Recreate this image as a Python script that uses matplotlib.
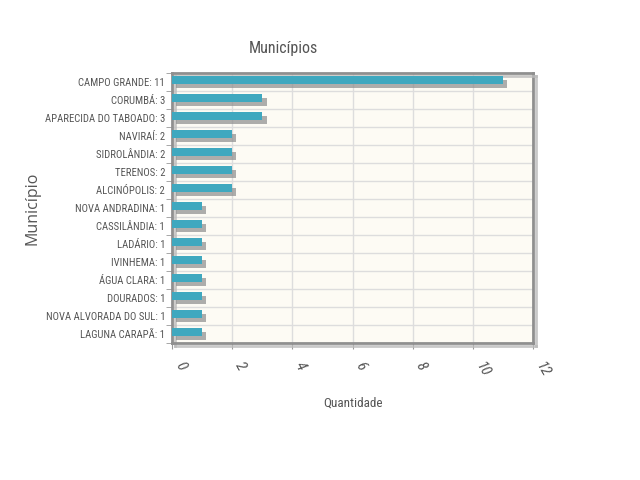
import matplotlib
matplotlib.use("Agg")
import matplotlib.pyplot as plt
import matplotlib.patheffects as pe
import numpy as np

# municipios e quantidades, de cima para baixo
municipios = ["CAMPO GRANDE", "CORUMBÁ", "APARECIDA DO TABOADO", "NAVIRAÍ",
              "SIDROLÂNDIA", "TERENOS", "ALCINÓPOLIS", "NOVA ANDRADINA",
              "CASSILÂNDIA", "LADÁRIO", "IVINHEMA", "ÁGUA CLARA", "DOURADOS",
              "NOVA ALVORADA DO SUL", "LAGUNA CARAPÃ"]
quantidade = [11, 3, 3, 2, 2, 2, 2, 1, 1, 1, 1, 1, 1, 1, 1]
x_ticks = [0, 2, 4, 6, 8, 10, 12]

plt.rcParams['font.family'] = ['Roboto Condensed', 'DejaVu Sans Condensed',
                               'Liberation Sans Narrow', 'Roboto', 'DejaVu Sans']
txt = '#555555'

fig = plt.figure(figsize=(6.4, 4.8), dpi=100)
ax = fig.add_axes([0.269, 0.285, 0.564, 0.563])
ax.set_facecolor('#fdfbf4')

n = len(municipios)
ypos = np.arange(n)
labels = [f"{m}: {q}" for m, q in zip(municipios, quantidade)]

bars = ax.barh(ypos - 0.12, quantidade, height=0.45, color='#3fa8bf', zorder=3)
for b in bars:
    b.set_path_effects([pe.SimplePatchShadow(offset=(3, -3), shadow_rgbFace='#8c8c8c', alpha=0.7),
                        pe.Normal()])

ax.set_xlim(0, 12)
ax.set_ylim(n - 0.5, -0.5)
ax.set_xticks(x_ticks)
ax.set_xticklabels([str(t) for t in x_ticks], rotation=-60, ha='left', va='top',
                   fontsize=11, color=txt, style='italic')
ax.set_yticks(ypos)
ax.set_yticklabels(labels, fontsize=7.7, color=txt)
ax.set_yticks(np.arange(n + 1) - 0.5, minor=True)
ax.tick_params(axis='y', which='major', length=0, pad=5)
ax.tick_params(axis='y', which='minor', length=4, color='#999999')
ax.tick_params(axis='x', length=4, color='#999999', pad=8)

ax.grid(axis='x', which='major', color='#dddddd', lw=1, zorder=0)
ax.grid(axis='y', which='minor', color='#dddddd', lw=1, zorder=0)

for s in ax.spines.values():
    s.set_color('#8f8f8f')
    s.set_linewidth(2)
    s.set_path_effects([pe.SimpleLineShadow(offset=(2, -2), shadow_color='#bbbbbb', alpha=0.8),
                        pe.Normal()])

fig.text(0.442, 0.9, "Municípios", fontsize=11.5, color=txt, ha='center', va='center')
ax.set_xlabel("Quantidade", fontsize=9.5, color=txt, labelpad=12)
fig.text(0.05, 0.565, "Município", rotation=90, fontsize=11.5, color=txt,
         ha='center', va='center', family='Open Sans')

fig.savefig("out.png", dpi=100, facecolor='white')
